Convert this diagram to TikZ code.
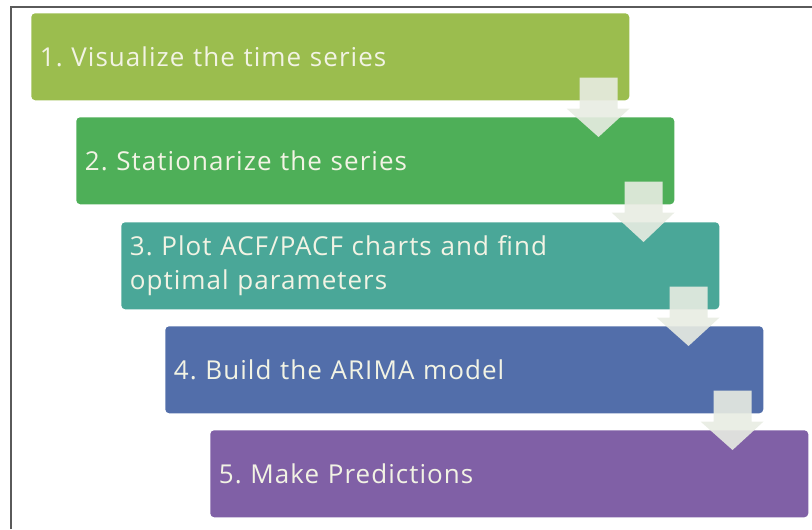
\documentclass[tikz,border=0pt]{standalone}
\usepackage{fontspec}
\setmainfont{Open Sans}[LetterSpace=4]
\frenchspacing
\usetikzlibrary{calc}

\definecolor{stepa}{RGB}{155,189,78}
\definecolor{stepb}{RGB}{78,175,88}
\definecolor{stepc}{RGB}{74,167,152}
\definecolor{stepd}{RGB}{82,110,170}
\definecolor{stepe}{RGB}{128,96,166}
\definecolor{labelcream}{RGB}{242,243,228}
\definecolor{arrowgray}{RGB}{232,236,226}
\definecolor{framegray}{RGB}{90,90,90}

\begin{document}
\begin{tikzpicture}[x=0.75pt,y=-0.75pt]
    \tikzset{stepbox/.style={anchor=north west,rounded corners=3pt,minimum width=448.5pt,minimum height=65.25pt,inner xsep=6.5pt,inner ysep=0pt,text width=435.5pt,align=left,text=labelcream,font=\fontsize{19.5}{26}\selectfont},
        flowarrow/.style={fill=arrowgray,opacity=0.9}}
    \useasboundingbox(0,0)rectangle(812,529);
    \draw[framegray,line width=0.9pt](11,529)--(11,7)--(812,7);

    \node[stepbox,fill=stepa](s1)at(31,13){1. Visualize the time series};
    \node[stepbox,fill=stepb](s2)at(76,117){2. Stationarize the series};
    \node[stepbox,fill=stepc](s3)at(121,222){3. Plot ACF/PACF charts and find\\optimal parameters};
    \node[stepbox,fill=stepd](s4)at(165,326){4. Build the ARIMA model};
    \node[stepbox,fill=stepe](s5)at(210,430){5. Make Predictions};

    % block arrows between the steps
    \foreach \i [evaluate=\i as \j using int(\i+1)] in {1,...,4}{
        \coordinate(h\i)at($(s\i.south east)+(-31,0)$);
        \coordinate(e\j)at($(s\j.north)+(0,20)$);
        \fill[flowarrow]($(h\i)+(-19,-23)$)--++(38,0)--++(0,31)--++(12,0)--(h\i|-e\j)--($(h\i)+(-32,8)$)--++(13,0)--cycle;
    }
\end{tikzpicture}
\end{document}
